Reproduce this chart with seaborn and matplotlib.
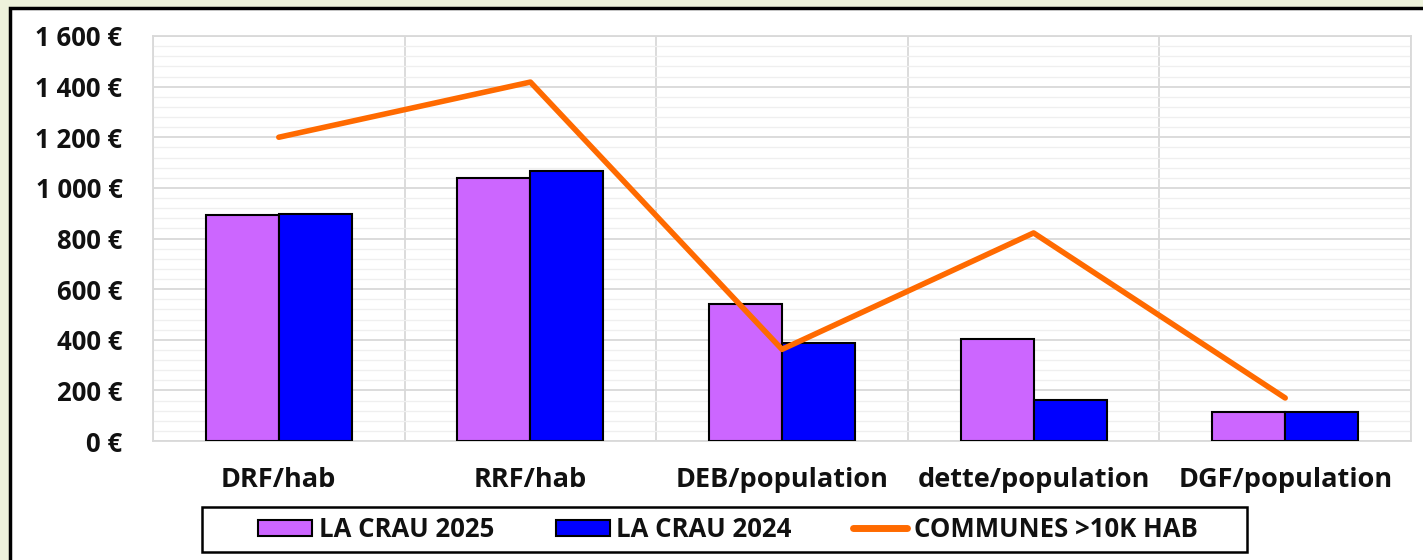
import numpy as np
import pandas as pd
import seaborn as sns
import matplotlib.pyplot as plt
from matplotlib.patches import Rectangle, Patch
from matplotlib.lines import Line2D
from matplotlib.ticker import MultipleLocator, FuncFormatter

categories = ["DRF/hab", "RRF/hab", "DEB/population", "dette/population", "DGF/population"]
crau_2025 = [893, 1039, 541, 403, 114]
crau_2024 = [898, 1067, 388, 162, 114]
communes_10k = [1200, 1418, 362, 822, 170]
series_names = ["LA CRAU 2025", "LA CRAU 2024", "COMMUNES >10K HAB"]

df = pd.DataFrame({
    "cat": categories * 2,
    "val": crau_2025 + crau_2024,
    "serie": [series_names[0]] * len(categories) + [series_names[1]] * len(categories),
})

sns.set_theme(style="white")
plt.rcParams["font.family"] = ["Open Sans", "DejaVu Sans"]

W, H = 1423, 560
fig = plt.figure(figsize=(W / 100, H / 100), dpi=100, facecolor="#EDF2DB")
# white framed panel, behind the axes
fig.patches.append(Rectangle((10 / W, -0.05), 1.0, 1 - 8 / H + 0.05,
                             transform=fig.transFigure, facecolor="white",
                             edgecolor="black", linewidth=2.5, zorder=-5))
# legend frame
fig.patches.append(Rectangle((202 / W, 1 - 552 / H), (1247 - 202) / W, 45 / H,
                             transform=fig.transFigure, facecolor="white",
                             edgecolor="black", linewidth=1.8, zorder=-4))

ax = fig.add_axes([153 / W, 1 - 441 / H, (1411 - 153) / W, (441 - 36) / H])
ax.set_facecolor("white")

sns.barplot(data=df, x="cat", y="val", hue="serie",
            palette=["#CC66FF", "#0000FF"], saturation=1, width=0.58, gap=0,
            edgecolor="black", linewidth=1.5, ax=ax, legend=False, zorder=3)
sns.lineplot(x=np.arange(len(categories)), y=communes_10k, color="#FF6A00",
             linewidth=4, ax=ax, zorder=4)

ax.set_xlim(-0.5, len(categories) - 0.5)
ax.set_ylim(0, 1600)
ax.yaxis.set_major_locator(MultipleLocator(200))
ax.yaxis.set_minor_locator(MultipleLocator(40))
ax.set_xticks(np.arange(-0.5, len(categories)), minor=True)
ax.grid(which="major", axis="y", color="#D9D9D9", linewidth=1.3, zorder=0)
ax.grid(which="minor", axis="y", color="#EFEFEF", linewidth=0.9, zorder=0)
ax.grid(which="minor", axis="x", color="#D9D9D9", linewidth=1.3, zorder=0)
ax.set_axisbelow(True)
for s in ax.spines.values():
    s.set_color("#D9D9D9")
    s.set_linewidth(1.3)

ax.yaxis.set_major_formatter(FuncFormatter(lambda v, p: f"{int(v):,} €".replace(",", " ")))
ax.tick_params(axis="y", which="both", length=0, pad=22, labelsize=18.5)
ax.tick_params(axis="x", which="both", length=0, pad=19, labelsize=19.5)
for lab in ax.get_yticklabels() + ax.get_xticklabels():
    lab.set_fontweight("bold")
    lab.set_color("#111111")
ax.set_xlabel("")
ax.set_ylabel("")

handles = [Patch(facecolor="#CC66FF", edgecolor="black", linewidth=1.5),
           Patch(facecolor="#0000FF", edgecolor="black", linewidth=1.5),
           Line2D([], [], color="#FF6A00", linewidth=5)]
leg = fig.legend(handles, series_names, ncol=3, loc="center",
                 bbox_to_anchor=(728 / W, 1 - 529.5 / H), frameon=False,
                 handlelength=2.1, handleheight=0.6, handletextpad=0.25,
                 columnspacing=2.4, borderpad=0.3,
                 prop={"family": ["Open Sans", "DejaVu Sans"], "size": 18.5, "weight": "bold"})
for t in leg.get_texts():
    t.set_color("#111111")

fig.savefig("out.png", dpi=100, facecolor=fig.get_facecolor())
